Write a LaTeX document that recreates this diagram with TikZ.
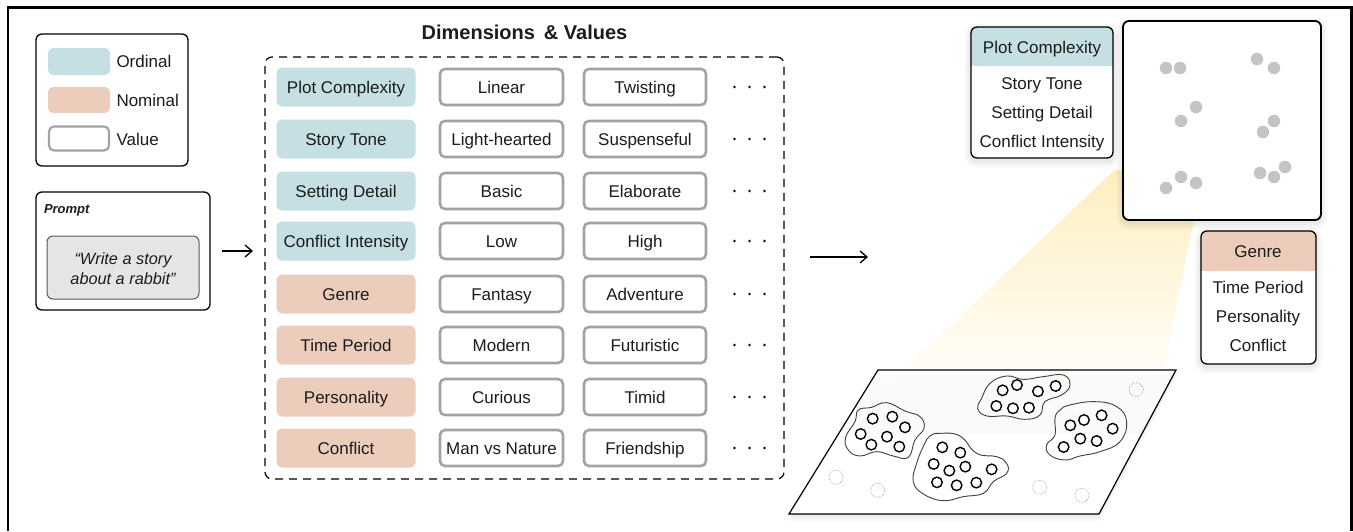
\documentclass[tikz,border=0pt]{standalone}
\usepackage{fontspec}
\setmainfont{Liberation Sans}
\usetikzlibrary{calc,arrows.meta}
\definecolor{ordc}{HTML}{C5DFE2}
\definecolor{nomc}{HTML}{ECCDBC}
\definecolor{valc}{HTML}{A3A3A3}
\definecolor{txt}{HTML}{1C1C1C}
\definecolor{beam}{HTML}{FEEFC0}
\newcommand{\softshade}[4]{\foreach \e in {1,2,...,7}{\fill[black,opacity=.011,rounded corners=6+\e] (#1-\e,#2-\e+3) rectangle (#3+\e,#4+\e+3);}}
\tikzset{
 x=1pt,y=-1pt,
 every node/.style={font=\fontsize{17}{20}\selectfont,text=txt,inner sep=0pt,outer sep=0pt},
 lbl/.style={text height=14,text depth=2},
 dimbase/.style={lbl,rounded corners=6,minimum width=139,minimum height=39},
 ordbox/.style={dimbase,fill=ordc},
 nombox/.style={dimbase,fill=nomc},
 valbox/.style={lbl,rounded corners=5,draw=valc,line width=2.6,fill=white,minimum height=36},
 panel/.style={rounded corners=6,draw=black,line width=1.3,fill=white},
 card/.style={rounded corners=6,draw=black,line width=1.3},
 arr/.style={-{Straight Barb[length=7,width=12,line width=1.3]},line width=1.3,black},
 dot/.style={circle,fill=black!23,minimum size=12.5},
 member/.style={circle,draw=black,line width=1.4,fill=white,minimum size=10.5},
 outlier/.style={circle,draw=black!55,densely dotted,line width=.5,minimum size=14},
 blob/.style={draw=black!75,line width=.9,smooth cycle,tension=.75},
}
\begin{document}
\begin{tikzpicture}
\useasboundingbox (0,0) rectangle (1353,531);
\fill[white] (0,0) rectangle (1353,531);
% frame
\draw[line width=2.2,black] (8,531) -- (8,7.5) -- (1351.5,7.5) -- (1351.5,531);
% beam
\begin{scope}
\clip (1123,162) -- (1194,220) -- (1160,385) -- (888,385) -- cycle;
\shade[top color=beam,bottom color=white] (880,170) rectangle (1200,400);
\end{scope}
% legend
\node[panel,minimum width=152,minimum height=132] (legend) at (112,100) {};
\node[rounded corners=5,fill=ordc,minimum width=62,minimum height=27] (lo) at (79,61.5) {};
\node[rounded corners=5,fill=nomc,minimum width=62,minimum height=26] (ln) at (79,100) {};
\node[rounded corners=5,draw=valc,line width=2.2,fill=white,minimum width=60,minimum height=24] (lv) at (79,138.5) {};
\node[lbl,anchor=west] (lot) at (116.5,61) {Ordinal};
\node[lbl,anchor=west] (lnt) at (116.5,100) {Nominal};
\node[lbl,anchor=west] (lvt) at (116.5,139) {Value};
% prompt
\node[panel,minimum width=174,minimum height=118] (prompt) at (123,251) {};
\node[anchor=west,font=\fontsize{13}{15}\selectfont\bfseries\itshape] (ptitle) at (44,210) {Prompt};
\node[rounded corners=6,draw=black!65,line width=1,fill=black!10,minimum width=152,minimum height=63] (pbox) at (123,267.5) {};
\node[align=center,font=\fontsize{16.3}{20}\selectfont\itshape] (ptext) at (123,268.5) {“Write a story\\about a rabbit”};
% dimensions
\node[lbl,font=\fontsize{20}{22}\selectfont\bfseries] (dtitle) at (524.5,33) {Dimensions\, \& Values};
\node[draw=black,line width=1.2,dash pattern=on 8pt off 6pt,rounded corners=7,minimum width=519,minimum height=422] (dimbox) at (524.5,268) {};
\foreach \n/\y/\st/\d/\a/\b in {
 1/87/ordbox/Plot Complexity/Linear/Twisting,
 2/139/ordbox/Story Tone/Light-hearted/Suspenseful,
 3/191/ordbox/Setting Detail/Basic/Elaborate,
 4/241/ordbox/Conflict Intensity/Low/High,
 5/294/nombox/Genre/Fantasy/Adventure,
 6/345/nombox/Time Period/Modern/Futuristic,
 7/397/nombox/Personality/Curious/Timid,
 8/448/nombox/Conflict/Man vs Nature/Friendship}{
  \node[\st] (d\n) at (346,\y) {\d};
  \node[valbox,minimum width=123] (a\n) at (501.5,\y) {\a};
  \node[valbox,minimum width=122] (b\n) at (645,\y) {\b};
  \fill[black] (734.5,\y) circle (1.4) (749.5,\y) circle (1.4) (764.5,\y) circle (1.4);
}
% arrows
\draw[arr,shorten <=12,shorten >=12] (prompt.east) -- (prompt.east -| dimbox.west);
\coordinate (as) at (810,257);
\coordinate (ae) at (868,257);
\draw[arr] (as) -- (ae);
% plane
\foreach \e in {1,2,...,8}
 \fill[black,opacity=.012] (878,370+\e) -- (1176,370+\e) -- (1099,514+\e) -- (789,514+\e) -- cycle;
\fill[white,fill opacity=.8,draw=none] (878,370) -- (1176,370) -- (1099,514) -- (789,514) -- cycle;
\fill[white,draw=none] (878-35,434) -- (1176-35,434) -- (1099,514) -- (789,514) -- cycle;
\draw[line width=1.2,black] (878,370) -- (1176,370) -- (1099,514) -- (789,514) -- cycle;
\begin{scope}[shift={(780,350)},x=.3333pt,y=-.3333pt]
 \draw[blob] plot coordinates {(320,158)(375,183)(420,200)(432,235)(405,270)(385,322)(340,318)(290,305)(240,318)(205,300)(197,262)(225,215)(235,180)(275,172)};
 \draw[blob] plot coordinates {(480,250)(540,258)(590,310)(650,320)(680,340)(680,370)(640,395)(610,430)(550,440)(490,452)(430,432)(400,395)(410,340)(432,285)(450,258)};
 \draw[blob] plot coordinates {(680,78)(730,88)(790,80)(850,75)(870,105)(845,135)(795,155)(780,195)(735,208)(680,198)(620,198)(593,175)(605,145)(630,100)};
 \draw[blob] plot coordinates {(870,165)(945,155)(1010,170)(1040,215)(1020,275)(960,305)(900,318)(855,330)(810,315)(800,285)(825,255)(825,205)(840,180)};
 \foreach \i/\p/\q in {
  a1/278/206,a2/337/200,a3/375/232,a4/242/252,a5/321/260,a6/274/284,a7/358/290,
  b1/487/292,b2/541/308,b3/461/342,b4/508/362,b5/556/350,b6/635/358,b7/471/397,b8/530/406,b9/589/398,
  c1/668/121,c2/711/105,c3/774/124,c4/827/108,c5/649/168,c6/699/175,c7/747/173,
  e1/871/226,e2/912/210,e3/965/196,e4/998/236,e5/901/266,e6/950/273,e7/851/291}
  \node[member] (m\i) at (\p,\q) {};
 \foreach \i/\p/\q in {1/168/382,2/293/421,3/779/412,4/906/436,5/1069/119}
  \node[outlier] (o\i) at (\p,\q) {};
\end{scope}
% scatter
\softshade{1123}{21}{1321}{220}
\node[panel,line width=1.8,minimum width=198,minimum height=199] (scatter) at (1222,120.5) {};
\foreach \i/\p/\q in {1/1166/68,2/1180/68,3/1257/59,4/1274/68,5/1181/121,6/1196/107,7/1274/121,8/1263/132,9/1166/188,10/1181/177,11/1196/183,12/1260/173,13/1274/177,14/1285/167}
 \node[dot] (s\i) at (\p,\q) {};
% card 1
\softshade{971}{27}{1113}{158}
\fill[white,rounded corners=6] (971,27) rectangle (1113,158);
\fill[ordc,rounded corners=6] (971,66) -- (971,27) -- (1113,27) -- (1113,66) -- cycle;
\fill[ordc] (971,55) rectangle (1113,66);
\node[card,minimum width=142,minimum height=131] (c1) at (1042,92.5) {};
\node[lbl] (c1h) at (1042,47) {Plot Complexity};
\node[lbl] (c1a) at (1042,83) {Story Tone};
\node[lbl] (c1b) at (1042,112) {Setting Detail};
\node[lbl] (c1c) at (1042,141) {Conflict Intensity};
% card 2
\softshade{1201}{231}{1316}{364}
\fill[white,rounded corners=6] (1201,231) rectangle (1316,364);
\fill[nomc,rounded corners=6] (1201,271) -- (1201,231) -- (1316,231) -- (1316,271) -- cycle;
\fill[nomc] (1201,260) rectangle (1316,271);
\node[card,minimum width=115,minimum height=133] (c2) at (1258.5,297.5) {};
\node[lbl] (c2h) at (1258,251) {Genre};
\node[lbl] (c2a) at (1258,287) {Time Period};
\node[lbl] (c2b) at (1258,316) {Personality};
\node[lbl] (c2c) at (1258,345) {Conflict};
\end{tikzpicture}
\end{document}
